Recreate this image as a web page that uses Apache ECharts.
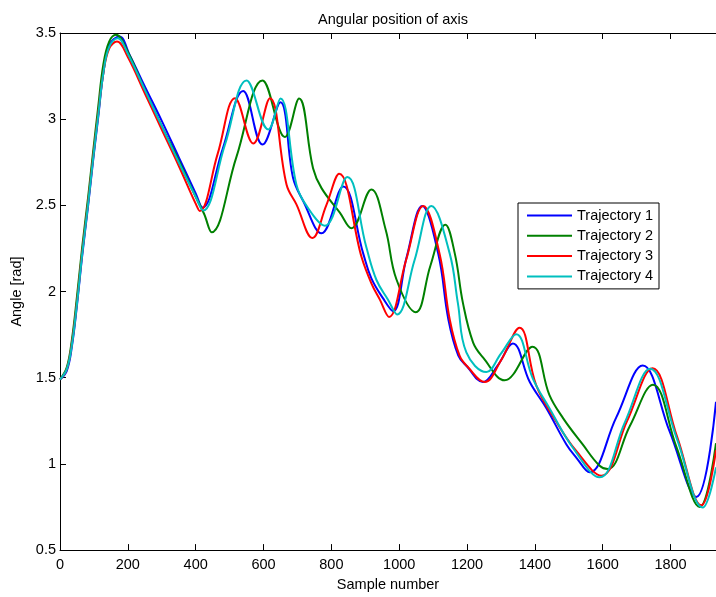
<!DOCTYPE html>
<html>
<head>
<meta charset="utf-8">
<script src="https://cdn.jsdelivr.net/npm/echarts@6/dist/echarts.min.js"></script>
<style>
  html, body { margin: 0; padding: 0; background: #fff; overflow: hidden; }
  #chart { width: 716px; height: 597px; }
</style>
</head>
<body>
<div id="chart"></div>
<script>
// Angular position samples: [sample number, angle in rad]
const trajectory1 = [
  [0,1.49],[20,1.54],[35,1.68],[50,1.92],[65,2.2],[83,2.5],[97,2.75],[112,3.0],[128,3.27],[145,3.43],[175,3.48],
  [206,3.37],[250,3.19],[300,2.99],[350,2.78],[400,2.57],[420,2.487],
  [480,2.83],[540,3.164],[597,2.853],[650,3.098],[687,2.66],[717,2.525],[771,2.338],[835,2.61],
  [894,2.22],[918,2.076],[952,1.962],[982,1.886],[1022,2.2],[1068,2.497],
  [1115,2.22],[1145,1.838],[1174,1.63],[1200,1.565],[1247,1.475],[1290,1.57],[1335,1.699],
  [1385,1.475],[1434,1.323],[1493,1.113],[1522,1.037],[1561,0.951],[1640,1.27],[1718,1.571],
  [1797,1.19],[1876,0.808],[1934,1.36]
];
const trajectory2 = [
  [0,1.49],[20,1.56],[35,1.72],[50,1.97],[65,2.25],[83,2.55],[97,2.8],[112,3.06],[128,3.32],[145,3.45],[165,3.49],
  [200,3.39],[250,3.17],[300,2.96],[350,2.76],[400,2.55],[425,2.45],[447,2.344],
  [520,2.78],[597,3.225],[663,2.897],[705,3.12],[746,2.716],[771,2.6],[825,2.458],[859,2.367],[918,2.592],
  [960,2.36],[992,2.07],[1049,1.88],[1092,2.15],[1136,2.388],
  [1164,2.22],[1188,1.933],[1218,1.704],[1247,1.618],[1311,1.485],[1393,1.68],
  [1443,1.399],[1483,1.266],[1541,1.113],[1591,0.989],[1615,0.97],[1680,1.22],[1748,1.46],
  [1817,1.1],[1886,0.75],[1934,1.12]
];
const trajectory3 = [
  [0,1.49],[20,1.55],[35,1.7],[50,1.94],[65,2.22],[83,2.52],[97,2.77],[112,3.02],[128,3.27],[145,3.41],[168,3.45],
  [200,3.36],[250,3.15],[300,2.94],[350,2.73],[400,2.51],[412,2.468],
  [465,2.8],[516,3.122],[570,2.859],[619,3.122],[668,2.62],[697,2.506],[744,2.311],[785,2.5],[823,2.683],
  [889,2.2],[918,2.048],[943,1.953],[970,1.853],[1020,2.18],[1071,2.497],
  [1119,2.22],[1149,1.838],[1178,1.628],[1203,1.561],[1252,1.475],[1300,1.6],[1355,1.79],
  [1404,1.456],[1463,1.246],[1522,1.075],[1596,0.932],[1672,1.25],[1747,1.555],
  [1819,1.16],[1891,0.76],[1934,1.08]
];
const trajectory4 = [
  [0,1.49],[20,1.55],[35,1.69],[50,1.93],[65,2.21],[83,2.51],[97,2.76],[112,3.01],[128,3.27],[145,3.42],[170,3.47],
  [200,3.38],[250,3.17],[300,2.96],[350,2.75],[400,2.55],[422,2.47],
  [486,2.85],[550,3.225],[614,2.94],[650,3.12],[697,2.62],[727,2.497],[781,2.382],[847,2.664],
  [903,2.258],[933,2.067],[967,1.953],[994,1.867],[1045,2.18],[1095,2.497],
  [1149,2.22],[1173,1.933],[1198,1.647],[1257,1.533],[1300,1.64],[1345,1.752],
  [1394,1.495],[1443,1.323],[1512,1.094],[1591,0.922],[1665,1.24],[1740,1.552],
  [1818,1.15],[1895,0.747],[1934,0.98]
];

const seriesNames = ['Trajectory 1', 'Trajectory 2', 'Trajectory 3', 'Trajectory 4'];
const seriesColors = ['#0000ff', '#008000', '#ff0000', '#00bfbf'];
const seriesData = [trajectory1, trajectory2, trajectory3, trajectory4];

const FONT = 'Liberation Sans, Arial, Helvetica, sans-serif';
const FS = 14.5;

const chart = echarts.init(document.getElementById('chart'), null, {
  renderer: 'canvas', width: 716, height: 597
});

const axisCommon = {
  axisLine: { show: true, lineStyle: { color: '#000', width: 1 } },
  axisTick: { show: true, inside: true, length: 6, lineStyle: { color: '#000' } },
  splitLine: { show: false }
};

chart.setOption({
  animation: false,
  backgroundColor: '#fff',
  title: {
    text: 'Angular position of axis',
    left: 388, top: 7, textAlign: 'center',
    textStyle: { fontFamily: FONT, fontSize: FS, fontWeight: 'normal', color: '#000' }
  },
  grid: { left: 60, right: 0, top: 33, bottom: 40, containLabel: false },
  legend: {
    data: seriesNames,
    orient: 'vertical',
    left: 518, top: 203,
    padding: [5, 6, 5, 8],
    itemWidth: 45, itemHeight: 14, itemGap: 5.3,
    backgroundColor: '#fff',
    borderColor: '#000', borderWidth: 1,
    // line-only keys: the marker glyph is hidden
    itemStyle: { color: 'rgba(0,0,0,0)', borderWidth: 0, opacity: 0 },
    lineStyle: { width: 2 },
    textStyle: { fontFamily: FONT, fontSize: FS, color: '#000' }
  },
  xAxis: [
    Object.assign({}, axisCommon, {
      type: 'value', position: 'bottom',
      min: 0, max: 1934, interval: 200,
      name: 'Sample number', nameLocation: 'middle', nameGap: 26,
      nameTextStyle: { fontFamily: FONT, fontSize: FS, color: '#000' },
      axisLabel: {
        fontFamily: FONT, fontSize: FS, color: '#000', margin: 7, showMaxLabel: false,
        formatter: v => String(v)
      }
    }),
    Object.assign({}, axisCommon, {
      type: 'value', position: 'top',
      min: 0, max: 1934, interval: 200,
      axisLabel: { show: false }
    })
  ],
  yAxis: Object.assign({}, axisCommon, {
    type: 'value', position: 'left',
    min: 0.5, max: 3.5, interval: 0.5,
    name: 'Angle [rad]', nameLocation: 'middle', nameGap: 27,
    nameTextStyle: { fontFamily: FONT, fontSize: FS, color: '#000' },
    axisLabel: { fontFamily: FONT, fontSize: FS, color: '#000', margin: 4, formatter: v => String(v) }
  }),
  series: seriesData.map((d, i) => ({
    name: seriesNames[i],
    type: 'line',
    xAxisIndex: 0,
    data: d,
    smooth: 0.4,
    symbol: 'none',
    showSymbol: false,
    color: seriesColors[i],
    lineStyle: { color: seriesColors[i], width: 2 }
  }))
});
</script>
</body>
</html>
